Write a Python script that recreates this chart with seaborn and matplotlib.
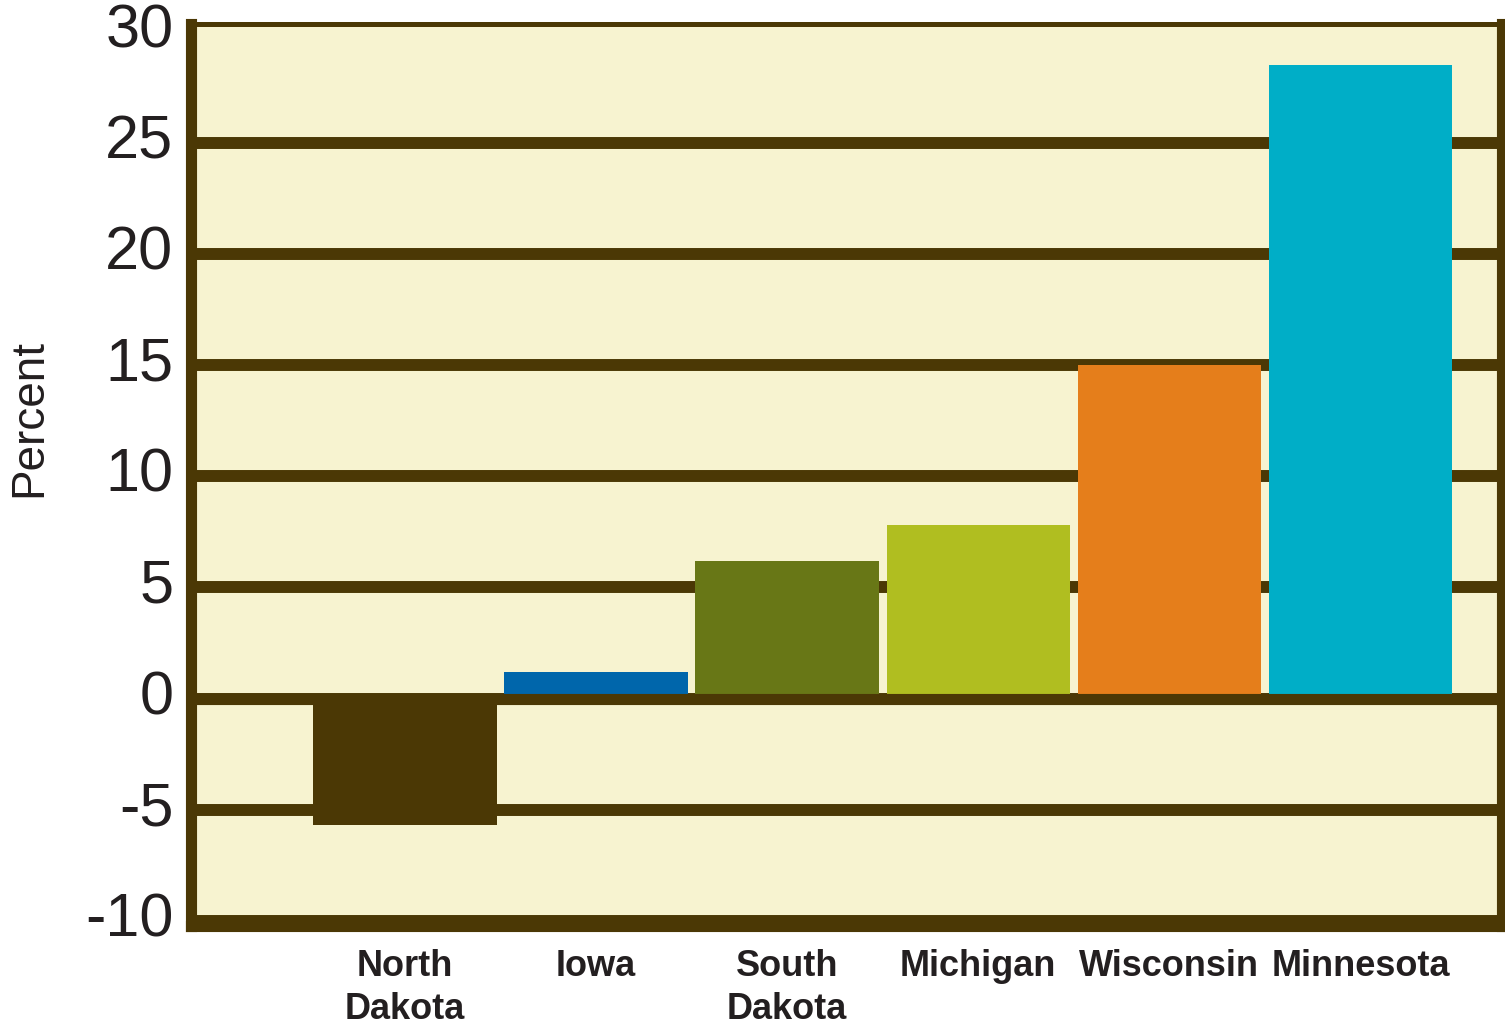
import matplotlib
matplotlib.use("Agg")
import matplotlib.pyplot as plt
import seaborn as sns
import pandas as pd

states = ["North\nDakota", "Iowa", "South\nDakota", "Michigan", "Wisconsin", "Minnesota"]
percent = [-5.7, 1.2, 6.2, 7.8, 15.0, 28.5]
bar_colors = ["#4B3805", "#0066AB", "#687716", "#B0BE20", "#E57E1B", "#00AEC7"]
y_ticks = [-10, -5, 0, 5, 10, 15, 20, 25, 30]
y_tick_labels = ["-10", "-5", "0", "5", "10", "15", "20", "25", "30"]

brown = "#4B3805"
cream = "#F7F3D0"
ink = "#231F20"

sns.set_style("white")
plt.rcParams["font.family"] = ["Liberation Sans", "DejaVu Sans"]

df = pd.DataFrame({"state": states, "percent": percent})

fig = plt.figure(figsize=(15.05, 10.27), dpi=100)
ax = fig.add_axes([0.1272, 0.0979, 0.8708, 0.8792])
ax.set_facecolor(cream)

sns.barplot(data=df, x="state", y="percent", hue="state", order=states,
            hue_order=states, palette=bar_colors, width=0.96, legend=False,
            saturation=1, ax=ax, zorder=3, linewidth=0)

ax.set_xlim(-1.117, 5.74)
ax.set_ylim(-10.26, 30.38)
ax.set_yticks(y_ticks)
ax.set_yticklabels(y_tick_labels)

ax.set_axisbelow(True)
ax.yaxis.grid(True, color=brown, linewidth=8.6, zorder=1)
ax.xaxis.grid(False)
gl = ax.get_ygridlines()
gl[-1].set_visible(False)

ax.axhline(0, color=brown, linewidth=8.0, zorder=4)

for side in ["left", "right", "bottom"]:
    ax.spines[side].set_visible(True)
    ax.spines[side].set_color(brown)
    ax.spines[side].set_linewidth(8.0)
ax.spines["top"].set_visible(True)
ax.spines["top"].set_color(brown)
ax.spines["top"].set_linewidth(3.6)

ax.tick_params(axis="y", length=0, pad=13, labelsize=44, labelcolor=ink)
ax.tick_params(axis="x", length=0, pad=16, labelcolor=ink)
for lbl in ax.get_xticklabels():
    lbl.set_fontsize(26)
    lbl.set_fontweight("bold")
    lbl.set_linespacing(1.32)
for lbl in ax.get_yticklabels():
    lbl.set_verticalalignment("center")

ax.set_xlabel("")
ax.set_ylabel("")
fig.text(29 / 1505, 1 - 418 / 1027, "Percent", rotation=90, fontsize=33,
         color=ink, ha="center", va="center")

fig.savefig("out.png", dpi=100, facecolor="white")
